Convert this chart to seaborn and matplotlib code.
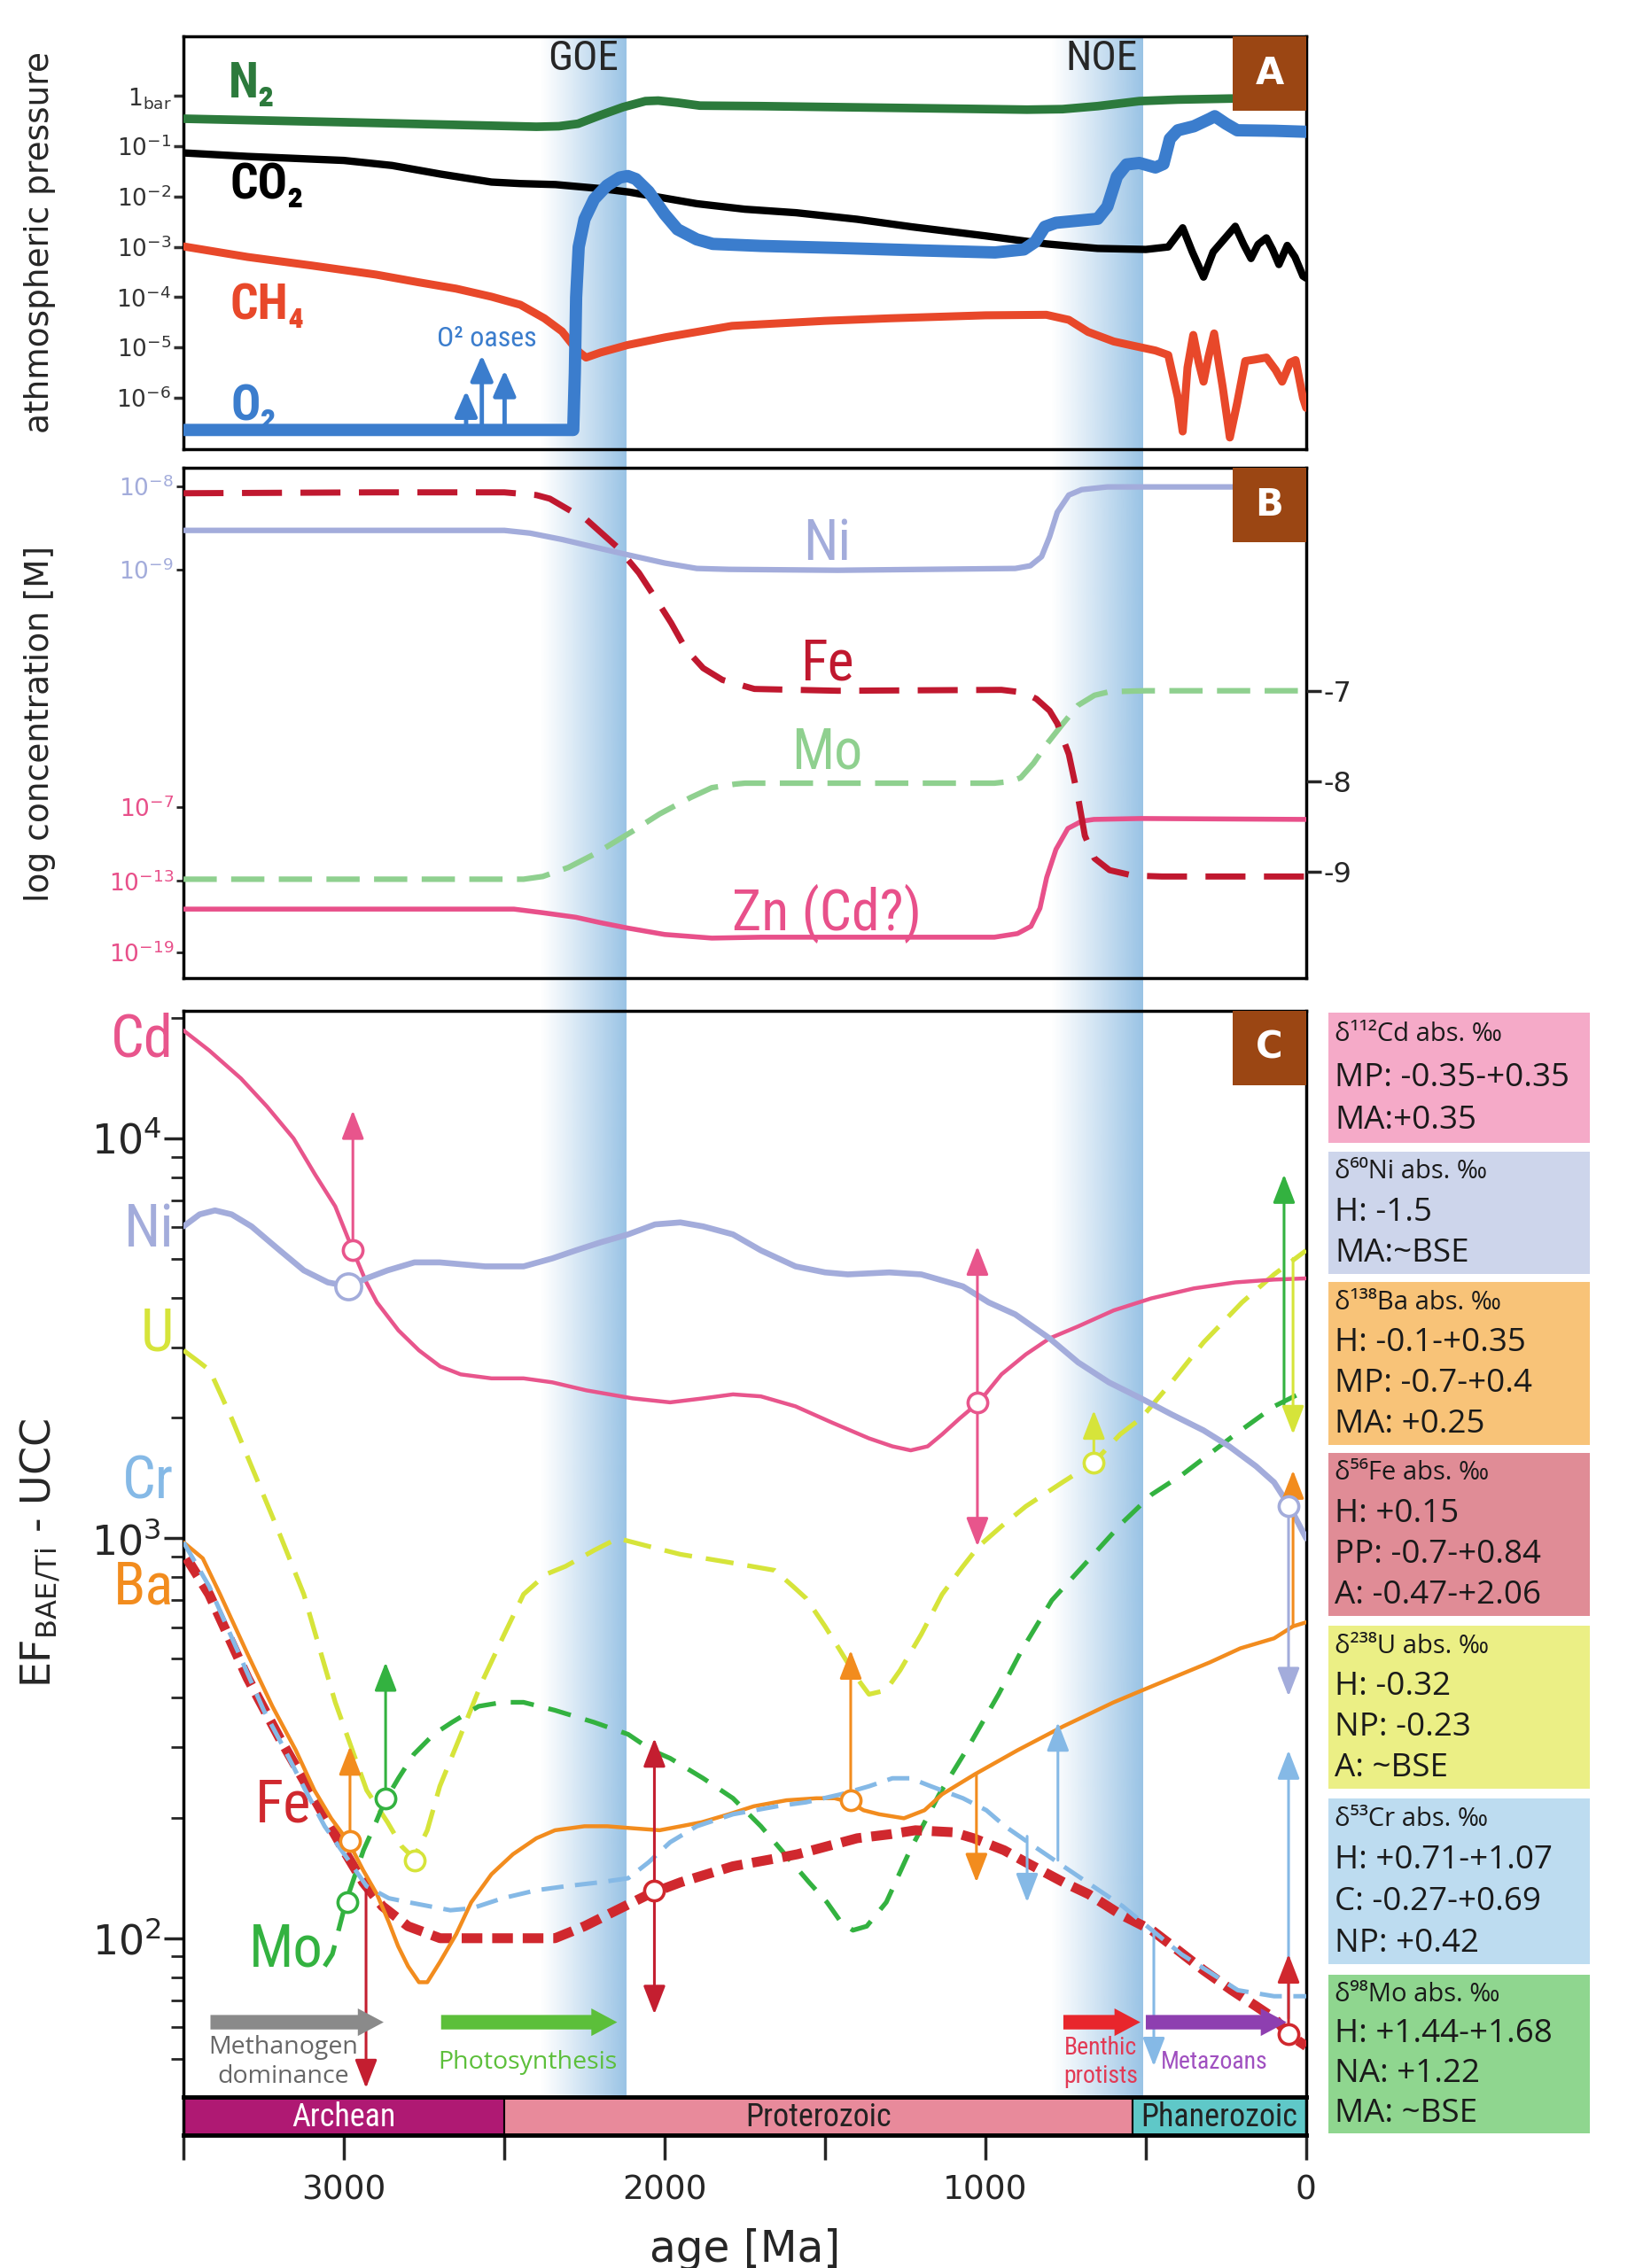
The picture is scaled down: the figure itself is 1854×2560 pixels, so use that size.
import numpy as np
import seaborn as sns
import matplotlib.pyplot as plt
from matplotlib import font_manager
from matplotlib.patches import Rectangle
from matplotlib.ticker import NullLocator, FixedLocator

sns.set_style("white")
plt.rcParams['font.family'] = ['DejaVu Sans']

names = {f.name for f in font_manager.fontManager.ttflist}
NARROW, SC = 'DejaVu Sans', 0.8
for cand, s in [('Liberation Sans Narrow', 1.0), ('Roboto Condensed', 1.0), ('Roboto', 0.92), ('Liberation Sans', 0.9)]:
    if cand in names:
        NARROW, SC = cand, s
        break
TRUE_NARROW = SC == 1.0
NF = [NARROW, 'DejaVu Sans']
BOXF = ['Open Sans', 'DejaVu Sans'] if 'Open Sans' in names else ['DejaVu Sans']

# ---------------- panel A : atmosphere (log10 bar) ----------------
n2_age = [3500, 3000, 2600, 2400, 2330, 2270, 2200, 2130, 2060, 2020, 1960, 1890, 1700, 1460, 1100, 870, 760, 650, 520, 400, 240, 0]
n2_val = [-0.45, -0.52, -0.58, -0.61, -0.60, -0.55, -0.38, -0.22, -0.10, -0.09, -0.13, -0.19, -0.20, -0.22, -0.25, -0.27, -0.26, -0.20, -0.10, -0.07, -0.05, -0.04]

co2_age = [3500, 3300, 3000, 2850, 2700, 2540, 2450, 2340, 2200, 2110, 2000, 1900, 1750, 1590, 1400, 1230, 1000, 810, 650, 500,
           430, 385, 355, 320, 290, 221, 195, 172, 150, 124, 105, 85, 59, 35, 10, 0]
co2_val = [-1.13, -1.20, -1.28, -1.38, -1.55, -1.71, -1.74, -1.76, -1.84, -1.91, -2.03, -2.14, -2.25, -2.32, -2.45, -2.60, -2.78, -2.94, -3.03, -3.05,
           -3.00, -2.62, -3.10, -3.60, -3.10, -2.59, -2.95, -3.23, -2.95, -2.82, -3.05, -3.35, -2.97, -3.20, -3.58, -3.62]

o2_age = [3500, 2400, 2285, 2280, 2276, 2268, 2250, 2220, 2180, 2140, 2115, 2090, 2050, 2000, 1960, 1900, 1850, 1700, 1460, 1200, 970,
          880, 845, 815, 780, 650, 620, 590, 560, 520, 470, 445, 425, 400, 350, 300, 285, 250, 215, 100, 0]
o2_val = [-6.64, -6.64, -6.64, -5.5, -4.0, -3.0, -2.45, -2.05, -1.78, -1.62, -1.59, -1.65, -1.90, -2.35, -2.65, -2.85, -2.94, -2.98, -3.02, -3.07, -3.11,
          -3.05, -2.90, -2.60, -2.52, -2.44, -2.20, -1.60, -1.36, -1.33, -1.42, -1.35, -0.85, -0.68, -0.60, -0.45, -0.40, -0.55, -0.68, -0.69, -0.71]

ch4_age = [3500, 3300, 3100, 2900, 2770, 2650, 2540, 2450, 2375, 2320, 2290, 2265, 2245, 2200, 2115, 2000, 1790, 1500, 1300, 1000, 810,
           740, 680, 600, 550, 470, 430, 400, 385, 370, 352, 335, 320, 305, 287, 260, 238, 215, 190, 160, 124, 95, 75, 50, 33, 10, 0]
ch4_val = [-2.99, -3.20, -3.37, -3.55, -3.70, -3.83, -3.99, -4.15, -4.42, -4.68, -4.92, -5.10, -5.20, -5.10, -4.95, -4.80, -4.57, -4.47, -4.42, -4.36, -4.35,
           -4.45, -4.69, -4.88, -4.95, -5.06, -5.15, -6.00, -6.67, -5.40, -4.75, -5.30, -5.68, -5.20, -4.72, -5.80, -6.79, -6.10, -5.27, -5.24, -5.20, -5.45, -5.68, -5.30, -5.25, -6.00, -6.20]

oasis_age = [2619, 2570, 2499]
oasis_top = [-5.86, -5.15, -5.45]

# ---------------- panel B : ocean concentrations (schematic scale) ----------------
feB_age = [3500, 2900, 2500, 2400, 2358, 2300, 2244, 2146, 2080, 2032, 1980, 1934, 1880, 1820, 1720, 1460, 950, 880, 841, 800, 776, 740, 710, 690, 660, 613, 540, 450, 0]
feB_val = [-4.82, -4.81, -4.81, -4.84, -4.88, -5.00, -5.11, -5.42, -5.70, -5.96, -6.25, -6.54, -6.75, -6.88, -6.98, -7.00, -6.99, -7.02, -7.09, -7.22, -7.36, -7.70, -8.20, -8.60, -8.85, -8.98, -9.04, -9.05, -9.05]

niB_age = [3500, 2500, 2420, 2320, 2200, 2114, 2000, 1900, 1800, 1461, 907, 860, 825, 800, 776, 740, 700, 620, 0]
niB_val = [-5.23, -5.23, -5.26, -5.33, -5.43, -5.50, -5.59, -5.65, -5.66, -5.67, -5.65, -5.62, -5.52, -5.30, -5.03, -4.84, -4.78, -4.75, -4.75]

moB_age = [3500, 2440, 2380, 2300, 2212, 2100, 2016, 1920, 1853, 1780, 1750, 972, 920, 890, 850, 809, 760, 711, 660, 613, 500, 0]
moB_val = [-9.08, -9.08, -9.05, -8.95, -8.79, -8.55, -8.36, -8.18, -8.07, -8.03, -8.02, -8.02, -8.00, -7.96, -7.80, -7.59, -7.37, -7.16, -7.05, -7.01, -7.00, -7.00]

znB_age = [3500, 2470, 2380, 2277, 2200, 2114, 2000, 1853, 1700, 972, 900, 858, 830, 809, 780, 743, 700, 662, 515, 0]
znB_val = [-9.41, -9.41, -9.45, -9.50, -9.56, -9.62, -9.69, -9.73, -9.72, -9.72, -9.68, -9.60, -9.40, -9.06, -8.75, -8.52, -8.44, -8.42, -8.41, -8.42]

b_left_ticks = [-4.745, -5.66, -8.28, -9.10, -9.89]
b_left_labels = ['$10^{-8}$', '$10^{-9}$', '$10^{-7}$', '$10^{-13}$', '$10^{-19}$']
b_right_ticks = [-7, -8, -9]

# ---------------- panel C : enrichment factors (log10 EF) ----------------
cd_age = [3500, 3420, 3321, 3240, 3157, 3090, 3027, 2972, 2930, 2897, 2830, 2766, 2700, 2636, 2540, 2440, 2350, 2244, 2100, 1983, 1880, 1787, 1700,
          1592, 1480, 1363, 1290, 1233, 1180, 1135, 1080, 1021, 950, 874, 800, 711, 600, 483, 350, 221, 100, 0]
cd_val = [4.27, 4.22, 4.15, 4.08, 4.00, 3.91, 3.83, 3.72, 3.64, 3.59, 3.52, 3.47, 3.43, 3.41, 3.40, 3.40, 3.39, 3.37, 3.35, 3.34, 3.35, 3.36, 3.355,
          3.33, 3.29, 3.25, 3.23, 3.22, 3.23, 3.26, 3.30, 3.34, 3.41, 3.46, 3.50, 3.53, 3.57, 3.60, 3.625, 3.64, 3.647, 3.65]

ni_age = [3500, 3450, 3402, 3350, 3288, 3200, 3125, 3050, 2985, 2930, 2864, 2780, 2701, 2560, 2440, 2350, 2277, 2200, 2114, 2030, 1951, 1880, 1787,
          1700, 1592, 1500, 1429, 1300, 1200, 1070, 990, 907, 800, 711, 615, 515, 420, 320, 240, 156, 100, 52, 0]
ni_val = [3.78, 3.81, 3.82, 3.81, 3.78, 3.72, 3.67, 3.64, 3.63, 3.65, 3.67, 3.69, 3.69, 3.68, 3.68, 3.70, 3.72, 3.74, 3.76, 3.785, 3.79, 3.78, 3.76,
          3.72, 3.68, 3.665, 3.66, 3.665, 3.66, 3.63, 3.59, 3.56, 3.50, 3.44, 3.39, 3.35, 3.31, 3.27, 3.23, 3.18, 3.14, 3.08, 3.00]

u_age = [3500, 3450, 3418, 3350, 3288, 3200, 3125, 3027, 2929, 2864, 2820, 2782, 2740, 2701, 2640, 2570, 2500, 2440, 2370, 2309, 2220, 2146, 2050,
         1951, 1800, 1657, 1600, 1559, 1500, 1461, 1400, 1363, 1310, 1266, 1200, 1135, 1070, 1021, 950, 874, 760, 662, 580, 515, 420, 320, 200, 100, 0]
u_val = [3.47, 3.44, 3.42, 3.30, 3.18, 3.01, 2.86, 2.59, 2.37, 2.29, 2.23, 2.20, 2.27, 2.38, 2.50, 2.64, 2.76, 2.86, 2.91, 2.93, 2.97, 3.00, 2.98,
         2.96, 2.94, 2.92, 2.88, 2.85, 2.78, 2.73, 2.65, 2.61, 2.62, 2.67, 2.76, 2.86, 2.93, 2.98, 3.03, 3.08, 3.14, 3.19, 3.26, 3.30, 3.39, 3.49, 3.59, 3.66, 3.72]

mo_age = [3060, 3036, 2994, 2939, 2900, 2874, 2830, 2782, 2720, 2663, 2580, 2506, 2440, 2342, 2220, 2114, 2040, 1983, 1880, 1787, 1700, 1625,
          1550, 1494, 1450, 1413, 1370, 1309, 1235, 1144, 1052, 959, 887, 793, 702, 572, 481, 385, 221, 100, 0]
mo_val = [1.93, 1.96, 2.09, 2.22, 2.29, 2.34, 2.40, 2.46, 2.51, 2.54, 2.58, 2.59, 2.59, 2.57, 2.54, 2.51, 2.47, 2.45, 2.40, 2.35, 2.28, 2.21,
          2.14, 2.09, 2.04, 2.02, 2.03, 2.09, 2.22, 2.36, 2.48, 2.61, 2.72, 2.845, 2.925, 3.04, 3.11, 3.16, 3.26, 3.33, 3.37]

ba_age = [3500, 3440, 3386, 3300, 3223, 3150, 3092, 3040, 2985, 2940, 2897, 2860, 2831, 2800, 2766, 2740, 2701, 2650, 2603, 2540, 2473, 2400,
          2342, 2250, 2179, 2100, 2016, 1950, 1885, 1800, 1722, 1620, 1527, 1470, 1422, 1380, 1331, 1254, 1190, 1135, 1033, 900, 757, 600, 481, 300, 205, 100, 41, 0]
ba_val = [2.99, 2.95, 2.86, 2.71, 2.58, 2.47, 2.37, 2.30, 2.24, 2.17, 2.11, 2.04, 1.98, 1.93, 1.89, 1.89, 1.94, 2.01, 2.09, 2.16, 2.21, 2.25,
          2.27, 2.28, 2.28, 2.275, 2.27, 2.28, 2.29, 2.31, 2.33, 2.345, 2.35, 2.35, 2.34, 2.32, 2.31, 2.30, 2.32, 2.36, 2.41, 2.47, 2.53, 2.59, 2.63, 2.69, 2.725, 2.75, 2.78, 2.79]

cr_age = [3500, 3420, 3321, 3250, 3190, 3120, 3060, 2990, 2929, 2860, 2799, 2668, 2600, 2505, 2400, 2309, 2200, 2114, 2050, 1983, 1900, 1787,
          1650, 1559, 1450, 1363, 1290, 1233, 1170, 1070, 997, 939, 867, 757, 572, 389, 213, 100, 0]
cr_val = [2.99, 2.88, 2.70, 2.57, 2.48, 2.37, 2.28, 2.20, 2.13, 2.10, 2.09, 2.07, 2.075, 2.10, 2.12, 2.13, 2.14, 2.15, 2.19, 2.24, 2.28, 2.31,
          2.33, 2.34, 2.36, 2.38, 2.40, 2.40, 2.38, 2.35, 2.32, 2.28, 2.24, 2.18, 2.08, 1.96, 1.87, 1.855, 1.855]

fe_age = [3490, 3420, 3300, 3200, 3100, 3000, 2940, 2880, 2800, 2700, 2600, 2450, 2342, 2250, 2150, 2049, 1950, 1787, 1650, 1586, 1400, 1298, 1218,
          1100, 1037, 942, 874, 757, 678, 580, 481, 400, 320, 232, 156, 100, 55, 0]
fe_val = [2.95, 2.86, 2.65, 2.50, 2.36, 2.22, 2.14, 2.08, 2.03, 2.00, 2.00, 2.00, 2.00, 2.03, 2.07, 2.11, 2.14, 2.18, 2.20, 2.21, 2.25, 2.26, 2.27,
          2.265, 2.25, 2.22, 2.19, 2.14, 2.11, 2.06, 2.02, 1.97, 1.92, 1.87, 1.83, 1.80, 1.76, 1.73]

# isotope sample points: (age, log EF, colour key, marker size)
pt_age = [2972, 2985, 1025, 662, 55, 2981, 2870, 2779, 2989, 2032, 1420, 55]
pt_val = [3.72, 3.63, 3.34, 3.19, 3.08, 2.244, 2.35, 2.195, 2.09, 2.12, 2.344, 1.76]
pt_key = ['Cd', 'Ni', 'Cd', 'U', 'Ni', 'Ba', 'Mo', 'U', 'Mo', 'Fe', 'Ba', 'Fe']
pt_size = [16, 21, 16, 16, 16, 16, 16, 16, 16, 16, 16, 16]

# arrows: age, from, to, colour key, double headed
ar_age = [2972, 1025, 69, 41, 41, 55, 55, 55, 2931, 2981, 2870, 2032, 1420, 1028, 870, 774, 475, 662]
ar_from = [3.72, 2.98, 3.335, 3.70, 2.78, 3.08, 1.80, 1.76, 2.12, 2.244, 2.35, 1.81, 2.344, 2.41, 2.255, 2.195, 2.02, 3.19]
ar_to = [4.07, 3.73, 3.91, 3.26, 3.17, 2.605, 2.47, 1.96, 1.625, 2.48, 2.69, 2.50, 2.72, 2.14, 2.09, 2.54, 1.68, 3.32]
ar_key = ['Cd', 'Cd', 'Mo', 'U', 'Ba', 'Ni', 'Cr', 'Fe', 'FeA', 'Ba', 'Mo', 'FeA', 'Ba', 'Ba', 'Cr', 'Cr', 'Cr', 'U']
ar_both = [False, True, False, False, False, False, False, False, False, False, False, True, False, False, False, False, False, False]

proc_names = ['Methanogen\ndominance', 'Photosynthesis', 'Benthic\nprotists', 'Metazoans']
proc_start = [3416, 2697, 757, 500]
proc_end = [2876, 2148, 517, 61]
proc_text_age = [3190, 2427, 641, 287]

eon_names = ['Archean', 'Proterozoic', 'Phanerozoic']
eon_start = [3500, 2500, 541]
eon_end = [2500, 541, 0]

bands = [(2390, 2120), (795, 510)]

box_lines = [
    ['δ¹¹²Cd abs. ‰', 'MP: -0.35-+0.35', 'MA:+0.35'],
    ['δ⁶⁰Ni abs. ‰', 'H: -1.5', 'MA:~BSE'],
    ['δ¹³⁸Ba abs. ‰', 'H: -0.1-+0.35', 'MP: -0.7-+0.4', 'MA: +0.25'],
    ['δ⁵⁶Fe abs. ‰', 'H: +0.15', 'PP: -0.7-+0.84', 'A: -0.47-+2.06'],
    ['δ²³⁸U abs. ‰', 'H: -0.32', 'NP: -0.23', 'A: ~BSE'],
    ['δ⁵³Cr abs. ‰', 'H: +0.71-+1.07', 'C: -0.27-+0.69', 'NP: +0.42'],
    ['δ⁹⁸Mo abs. ‰', 'H: +1.44-+1.68', 'NA: +1.22', 'MA: ~BSE'],
]
box_colors = ['#f5aac8', '#cdd5eb', '#f8c378', '#e08c96', '#ebef85', '#bddcf0', '#8fd68f']
box_top_px = [1143, 1300, 1447, 1640, 1835, 2030, 2229]
box_bot_px = [1290, 1438, 1631, 1824, 2019, 2217, 2408]

col = {'Cd': '#e8558c', 'Ni': '#a3acdb', 'U': '#d6e43a', 'Mo': '#33b240', 'Ba': '#f28c1e',
       'Cr': '#85b9e6', 'Fe': '#d0282e', 'FeA': '#c41e30'}
BROWN = '#9b4613'

# ---------------- figure ----------------
W_PX, H_PX = 1854, 2560
fig = plt.figure(figsize=(W_PX / 100, H_PX / 100), dpi=100)
L, W = 0.1117, 0.6833
axA = fig.add_axes([L, 0.802, W, 0.1818])
axB = fig.add_axes([L, 0.5688, W, 0.2249])
axC = fig.add_axes([L, 0.0754, W, 0.4789])
axE = fig.add_axes([L, 0.0586, W, 0.0168])
bg = fig.add_axes([L, 0.0754, W, 0.9838 - 0.0754])
bg.set_zorder(0)
for ax in (axA, axB, axC, axE):
    ax.set_zorder(2)
    ax.patch.set_alpha(0)
    ax.set_xlim(3500, 0)
    for s in ax.spines.values():
        s.set_color('black')
        s.set_linewidth(2.5)

# blue event bands (behind all panels)
for x_old, x_young in bands:
    grad = np.zeros((1, 256, 4))
    grad[..., 0], grad[..., 1], grad[..., 2] = 85 / 255, 155 / 255, 212 / 255
    grad[0, :, 3] = np.linspace(0, 1, 256) ** 1.1 * 0.6
    bg.imshow(grad, extent=(x_old, x_young, 0, 1), aspect='auto', interpolation='bilinear')
bg.set_xlim(3500, 0)
bg.set_ylim(0, 1)
bg.axis('off')


def curve(ax, ages, vals, color, lw, ls='-', log=False, z=3):
    y = np.power(10.0, vals) if log else np.asarray(vals)
    sns.lineplot(x=ages, y=y, ax=ax, color=color, lw=lw, linestyle=ls, sort=False,
                 estimator=None, zorder=z, solid_capstyle='round', dash_capstyle='butt')


def letter_box(ax, txt):
    bb = ax.get_position()
    w = 83 / (bb.width * W_PX)
    h = 84 / (bb.height * H_PX)
    ax.add_patch(Rectangle((1 - w, 1 - h), w, h, transform=ax.transAxes, facecolor=BROWN,
                           edgecolor='none', zorder=10, clip_on=False))
    ax.text(1 - w / 2, 1 - h / 2, txt, transform=ax.transAxes, ha='center', va='center',
            color='white', fontsize=30, fontweight='bold', zorder=11)


# ---- panel A
axA.set_yscale('log')
curve(axA, n2_age, n2_val, '#2c7a3c', 7, log=True)
curve(axA, co2_age, co2_val, 'black', 6, log=True)
curve(axA, ch4_age, ch4_val, '#e8482a', 6.5, log=True)
curve(axA, o2_age, o2_val, '#3b7dcd', 10, log=True, z=4)
for a, t in zip(oasis_age, oasis_top):
    axA.annotate('', xy=(a, 10 ** t), xytext=(a, 10 ** -6.6),
                 arrowprops=dict(arrowstyle='-|>,head_length=0.8,head_width=0.35', color='#3b7dcd',
                                 lw=3.5, shrinkA=0, shrinkB=0, mutation_scale=22))
axA.text(2554, 10 ** -4.83, 'O² oases', color='#3b7dcd', ha='center', va='center',
         fontsize=23 * SC, family=NF)
for txt, a, v, c in [('N₂', 3288, 0.245, '#2c7a3c'), ('CO₂', 3239, -1.77, 'black'),
                     ('CH₄', 3239, -4.16, '#e8482a'), ('O₂', 3281, -6.18, '#3b7dcd')]:
    axA.text(a, 10 ** v, txt, color=c, ha='center', va='center', fontsize=40 * SC,
             fontweight='bold', family=NF)
axA.text(2254, 10 ** 0.74, 'GOE', ha='center', va='center', fontsize=34 * SC, family=NF)
axA.text(639, 10 ** 0.74, 'NOE', ha='center', va='center', fontsize=34 * SC, family=NF)
axA.set_ylim(10 ** -7.02, 10 ** 1.18)
axA.yaxis.set_major_locator(FixedLocator([10.0 ** -k for k in range(7)]))
axA.set_yticklabels(['$1_{\\rm bar}$'] + ['$10^{-%d}$' % k for k in range(1, 7)])
axA.yaxis.set_minor_locator(NullLocator())
axA.tick_params(axis='y', left=True, length=8, width=2.5, labelsize=19, colors='#333333', pad=2)
axA.set_xticks([])
axA.set_xlabel('')
axA.set_ylabel('')
letter_box(axA, 'A')

# ---- panel B
curve(axB, niB_age, niB_val, col['Ni'], 4.5)
curve(axB, znB_age, znB_val, '#e8508a', 4)
curve(axB, moB_age, moB_val, '#8fd08f', 4.5, ls=(0, (6, 2.6)))
curve(axB, feB_age, feB_val, '#c0182f', 5, ls=(0, (6.5, 3)))
for txt, v, c in [('Ni', -5.38, col['Ni']), ('Fe', -6.70, '#c0182f'), ('Mo', -7.68, '#8fd08f'), ('Zn (Cd?)', -9.46, '#e8508a')]:
    axB.text(1494, v, txt, color=c, ha='center', va='center', fontsize=46 * SC, family=NF)
axB.set_ylim(-10.17, -4.54)
axB.set_yticks(b_left_ticks)
axB.set_yticklabels(b_left_labels)
axB.tick_params(axis='y', left=True, length=6, width=2, labelsize=19, pad=2)
for tk, c in zip(axB.yaxis.get_major_ticks(), [col['Ni'], col['Ni'], '#e8508a', '#e8508a', '#e8508a']):
    tk.label1.set_color(c)
    tk.tick1line.set_color(c)
axB.set_xticks([])
axB.set_xlabel('')
axB.set_ylabel('')
axB2 = axB.twinx()
axB2.set_ylim(-10.17, -4.54)
axB2.set_yticks(b_right_ticks)
axB2.set_yticklabels(['-7', '-8', '-9'])
axB2.tick_params(axis='y', right=True, length=12, width=2.5, labelsize=23, pad=2)
for s in axB2.spines.values():
    s.set_visible(False)
letter_box(axB, 'B')

# ---- panel C
axC.set_yscale('log')
curve(axC, u_age, u_val, col['U'], 3.8, ls=(0, (6, 3)), log=True)
curve(axC, mo_age, mo_val, col['Mo'], 3.8, ls=(0, (5, 3.2)), log=True)
curve(axC, cd_age, cd_val, col['Cd'], 3.2, log=True)
curve(axC, ni_age, ni_val, col['Ni'], 4.8, log=True)
curve(axC, ba_age, ba_val, col['Ba'], 3.2, log=True, z=4)
curve(axC, fe_age, fe_val, col['Fe'], 8, ls=(0, (2.1, 1.0)), log=True)
curve(axC, cr_age, cr_val, col['Cr'], 3.6, ls=(0, (5, 2.6)), log=True, z=4)

for a, f, t, k, both in zip(ar_age, ar_from, ar_to, ar_key, ar_both):
    st = '<|-|>' if both else '-|>'
    axC.annotate('', xy=(a, 10 ** t), xytext=(a, 10 ** f),
                 arrowprops=dict(arrowstyle=st + ',head_length=0.9,head_width=0.35', color=col[k],
                                 lw=2.2, shrinkA=0, shrinkB=0, mutation_scale=22), zorder=5)
for a, v, k, s in zip(pt_age, pt_val, pt_key, pt_size):
    axC.plot(a, 10 ** v, marker='o', ms=s, mfc='white', mec=col[k], mew=2.6, zorder=7, clip_on=False)

proc_cols = ['#8a8a8a', '#5cbf3a', '#e8262c', '#8e3fb0']
proc_tcols = ['#666666', '#5cbf3a', '#e23a55', '#a050c0']
for name, s0, s1, ta, c, tc in zip(proc_names, proc_start, proc_end, proc_text_age, proc_cols, proc_tcols):
    axC.annotate('', xy=(s1, 10 ** 1.79), xytext=(s0, 10 ** 1.79),
                 arrowprops=dict(arrowstyle='simple,head_length=0.75,head_width=0.8,tail_width=0.42',
                                 color=c, lw=0, shrinkA=0, shrinkB=0, mutation_scale=28), zorder=5)
    if name in ('Benthic\nprotists', 'Metazoans'):
        fam, fs = NF, 20 * SC
    else:
        fam, fs = BOXF, 20.5
    axC.text(ta, 10 ** 1.69, name, color=tc, ha='center', va='center', fontsize=fs,
             family=fam, linespacing=1.25)

for txt, v in [('Cd', 4.245), ('Ni', 3.77), ('U', 3.51), ('Cr', 3.14), ('Ba', 2.875)]:
    axC.text(3530, 10 ** v, txt, color=col[txt], ha='right', va='center', fontsize=48 * SC,
             family=NF, clip_on=False)
axC.text(3190, 10 ** 2.33, 'Fe', color=col['Fe'], ha='center', va='center', fontsize=48 * SC, family=NF)
axC.text(3180, 10 ** 1.97, 'Mo', color=col['Mo'], ha='center', va='center', fontsize=48 * SC, family=NF)

axC.set_ylim(10 ** 1.603, 10 ** 4.319)
axC.yaxis.set_major_locator(FixedLocator([1e2, 1e3, 1e4]))
axC.set_yticklabels(['$10^2$', '$10^3$', '$10^4$'])
axC.tick_params(axis='y', which='major', left=True, length=16, width=2.5, labelsize=33, pad=2)
axC.tick_params(axis='y', which='minor', left=True, length=10, width=2)
axC.set_xticks([])
axC.set_xlabel('')
axC.set_ylabel('')
letter_box(axC, 'C')

# ---- eon bar
eon_cols = ['#af1973', '#e88a9b', '#5fc8c8']
eon_tcols = ['white', '#222222', '#222222']
eon_fs = 26 if TRUE_NARROW else 23
for n, s0, s1, c, tc in zip(eon_names, eon_start, eon_end, eon_cols, eon_tcols):
    axE.barh(0.5, s0 - s1, left=s1, height=1.0, color=c, edgecolor='black', lw=1.5)
    axE.text((s0 + s1) / 2, 0.47, n, color=tc, ha='center', va='center', fontsize=eon_fs,
             family=NF, clip_on=True)
axE.set_ylim(0, 1)
axE.set_xlim(3500, 0)
axE.set_yticks([])
axE.set_xticks([3000, 2000, 1000, 0])
axE.set_xticks([3500, 2500, 1500, 500], minor=True)
axE.set_xticklabels(['3000', '2000', '1000', '0'])
axE.tick_params(axis='x', which='both', bottom=True, length=20, width=2.5, labelsize=27, pad=12)
axE.set_xlabel('age [Ma]', fontsize=35, labelpad=18)
axE.spines['top'].set_linewidth(3.5)
axE.spines['bottom'].set_linewidth(3.5)

# ---- y labels
fig.text(0.0245, 0.893, 'athmospheric pressure', rotation=90, ha='center', va='center', fontsize=27)
fig.text(0.0245, 0.681, 'log concentration [M]', rotation=90, ha='center', va='center', fontsize=27)
fig.text(0.0245, 0.315, 'EF$_{\\rm BAE/Ti}$ - UCC', rotation=90, ha='center', va='center', fontsize=33)

# ---- isotope boxes
bx0, bw = 0.8085, 0.1591
for lines, c, t, b in zip(box_lines, box_colors, box_top_px, box_bot_px):
    y0 = 1 - b / H_PX
    h = (b - t) / H_PX
    fig.add_artist(Rectangle((bx0, y0), bw, h, transform=fig.transFigure, facecolor=c, edgecolor='none'))
    n = len(lines)
    for i, ln in enumerate(lines):
        yc = 1 - (t + (b - t) * (i + 0.5) / n) / H_PX
        fig.text(0.8125, yc, ln, ha='left', va='center', fontsize=21 if i == 0 else 26.5,
                 family=BOXF, color='#1a1a1a')

fig.savefig('out.png', dpi=100)
